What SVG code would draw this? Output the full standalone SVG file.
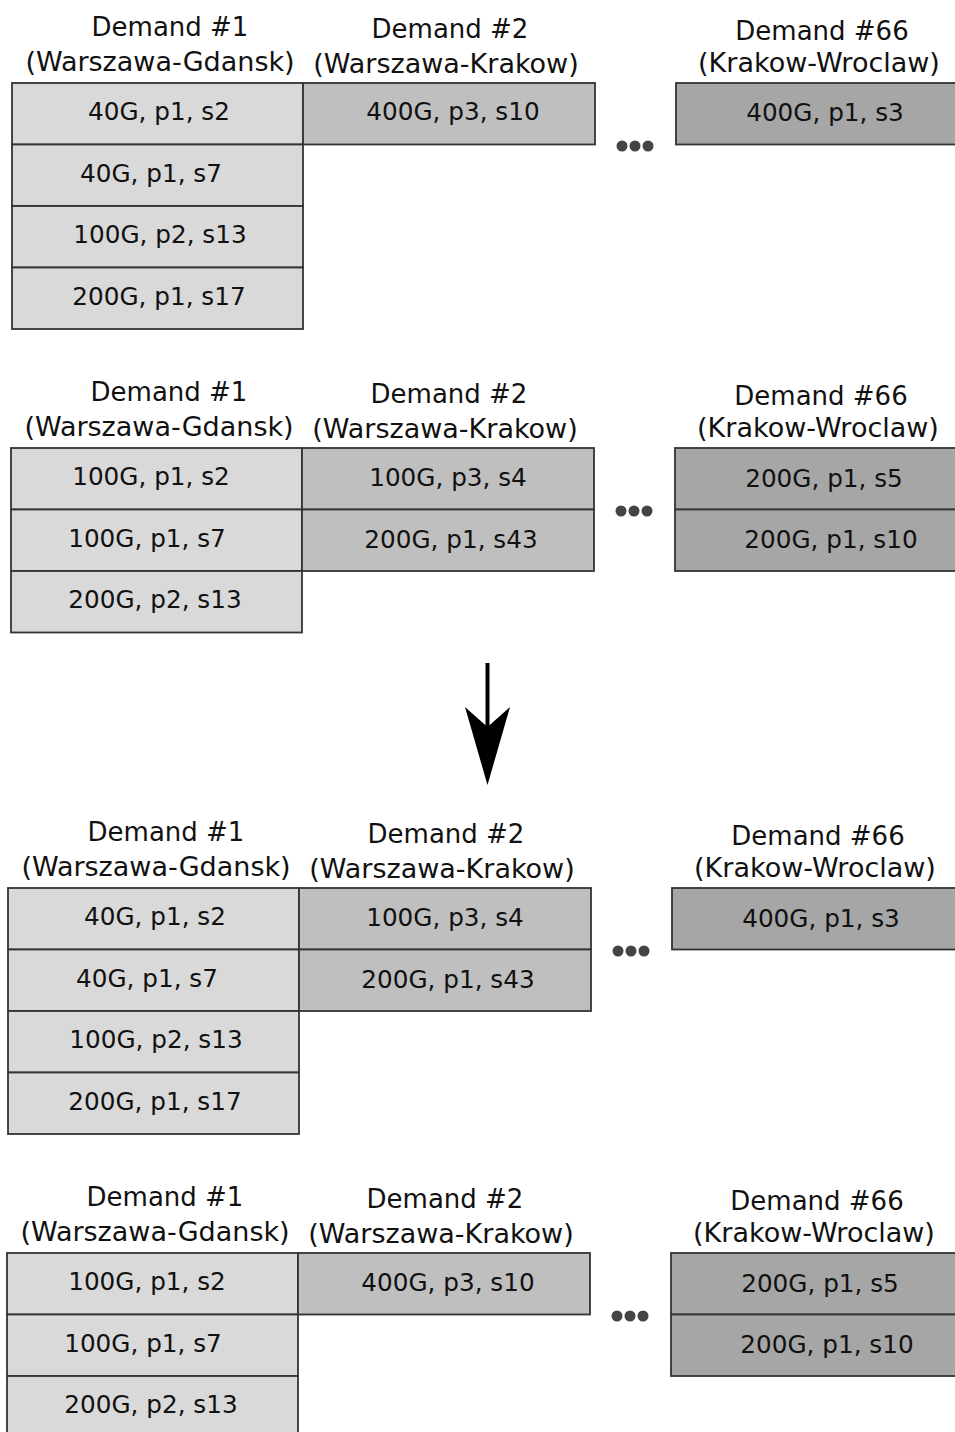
<svg xmlns="http://www.w3.org/2000/svg" width="955" height="1432" viewBox="0 0 955 1432">
<style>
.c1{fill:#d9d9d9;stroke:#333;stroke-width:1.8}
.c2{fill:#bfbfbf;stroke:#333;stroke-width:1.8}
.c3{fill:#a6a6a6;stroke:#333;stroke-width:1.8}
text{font-family:"DejaVu Sans",Verdana,sans-serif;fill:#111;text-anchor:middle}
.h{font-size:26px}
.p{font-size:27px}
.t{font-size:24.7px}
.dot{fill:#444}
</style>
<defs>
<g id="dots"><circle class="dot" cx="622" cy="146" r="5.5"/><circle class="dot" cx="635" cy="146" r="5.5"/><circle class="dot" cx="648" cy="146" r="5.5"/></g>
<g id="hdr">
<text class="h" x="170" y="36">Demand #1</text>
<text class="p" x="160" y="71">(Warszawa-Gdansk)</text>
<text class="h" x="450" y="38">Demand #2</text>
<text class="p" x="446" y="73">(Warszawa-Krakow)</text>
<text class="h" x="822" y="40">Demand #66</text>
<text class="p" x="819" y="72">(Krakow-Wroclaw)</text>
</g>
</defs>

<g id="block1">
<use href="#hdr"/>
<g id="b1-d1">
<rect class="c1" x="12" y="83" width="291" height="61.5"/>
<rect class="c1" x="12" y="144.5" width="291" height="61.5"/>
<rect class="c1" x="12" y="206" width="291" height="61.5"/>
<rect class="c1" x="12" y="267.5" width="291" height="61.5"/>
<text class="t" x="159" y="120">40G, p1, s2</text>
<text class="t" x="151" y="182">40G, p1, s7</text>
<text class="t" x="160" y="243">100G, p2, s13</text>
<text class="t" x="159" y="305">200G, p1, s17</text>
</g>
<g id="b1-d2">
<rect class="c2" x="303" y="83" width="292" height="61.5"/>
<text class="t" x="453" y="120">400G, p3, s10</text>
</g>
<g id="b1-d66">
<rect class="c3" x="676" y="83" width="291" height="61.5"/>
<text class="t" x="825" y="121">400G, p1, s3</text>
</g>
<use href="#dots"/>
</g>

<g id="block2" transform="translate(-1,365)">
<use href="#hdr"/>
<g id="b2-d1">
<rect class="c1" x="12" y="83" width="291" height="61.5"/>
<rect class="c1" x="12" y="144.5" width="291" height="61.5"/>
<rect class="c1" x="12" y="206" width="291" height="61.5"/>
<text class="t" x="152" y="120">100G, p1, s2</text>
<text class="t" x="148" y="182">100G, p1, s7</text>
<text class="t" x="156" y="243">200G, p2, s13</text>
</g>
<g id="b2-d2">
<rect class="c2" x="303" y="83" width="292" height="61.5"/>
<rect class="c2" x="303" y="144.5" width="292" height="61.5"/>
<text class="t" x="449" y="121">100G, p3, s4</text>
<text class="t" x="452" y="183">200G, p1, s43</text>
</g>
<g id="b2-d66">
<rect class="c3" x="676" y="83" width="291" height="61.5"/>
<rect class="c3" x="676" y="144.5" width="291" height="61.5"/>
<text class="t" x="825" y="122">200G, p1, s5</text>
<text class="t" x="832" y="183">200G, p1, s10</text>
</g>
<use href="#dots"/>
</g>

<g id="connectors">
<line x1="487.5" y1="663" x2="487.5" y2="735" stroke="#000" stroke-width="4"/>
<polygon points="465,707 487.5,727 510,707 487.5,785" fill="#000"/>
</g>

<g id="block3" transform="translate(-4,805)">
<use href="#hdr"/>
<g id="b3-d1">
<rect class="c1" x="12" y="83" width="291" height="61.5"/>
<rect class="c1" x="12" y="144.5" width="291" height="61.5"/>
<rect class="c1" x="12" y="206" width="291" height="61.5"/>
<rect class="c1" x="12" y="267.5" width="291" height="61.5"/>
<text class="t" x="159" y="120">40G, p1, s2</text>
<text class="t" x="151" y="182">40G, p1, s7</text>
<text class="t" x="160" y="243">100G, p2, s13</text>
<text class="t" x="159" y="305">200G, p1, s17</text>
</g>
<g id="b3-d2">
<rect class="c2" x="303" y="83" width="292" height="61.5"/>
<rect class="c2" x="303" y="144.5" width="292" height="61.5"/>
<text class="t" x="449" y="121">100G, p3, s4</text>
<text class="t" x="452" y="183">200G, p1, s43</text>
</g>
<g id="b3-d66">
<rect class="c3" x="676" y="83" width="291" height="61.5"/>
<text class="t" x="825" y="122">400G, p1, s3</text>
</g>
<use href="#dots"/>
</g>

<g id="block4" transform="translate(-5,1170)">
<use href="#hdr"/>
<g id="b4-d1">
<rect class="c1" x="12" y="83" width="291" height="61.5"/>
<rect class="c1" x="12" y="144.5" width="291" height="61.5"/>
<rect class="c1" x="12" y="206" width="291" height="61.5"/>
<text class="t" x="152" y="120">100G, p1, s2</text>
<text class="t" x="148" y="182">100G, p1, s7</text>
<text class="t" x="156" y="243">200G, p2, s13</text>
</g>
<g id="b4-d2">
<rect class="c2" x="303" y="83" width="292" height="61.5"/>
<text class="t" x="453" y="121">400G, p3, s10</text>
</g>
<g id="b4-d66">
<rect class="c3" x="676" y="83" width="291" height="61.5"/>
<rect class="c3" x="676" y="144.5" width="291" height="61.5"/>
<text class="t" x="825" y="122">200G, p1, s5</text>
<text class="t" x="832" y="183">200G, p1, s10</text>
</g>
<use href="#dots"/>
</g>
</svg>
